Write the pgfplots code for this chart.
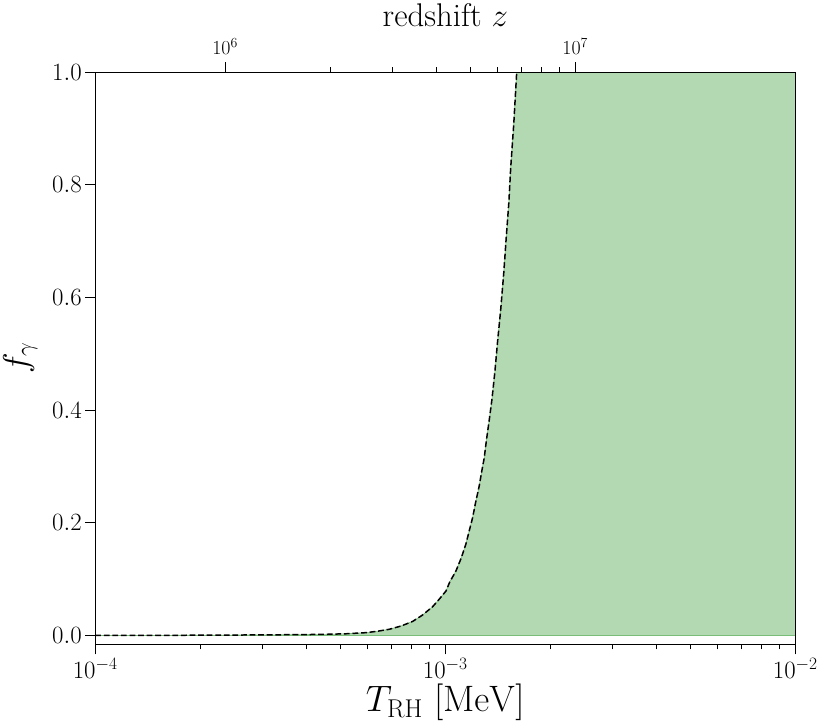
\RequirePackage{fix-cm}
\documentclass[border=0pt]{standalone}
\usepackage{pgfplots}
\pgfplotsset{compat=1.18}
\definecolor{fillgreen}{RGB}{179,217,179}
\definecolor{edgegreen}{RGB}{120,190,120}
\pgfplotstableread{
T f
1e-4 0
1.5e-4 0.0002
2e-4 0.0005
3e-4 0.001
3.84e-4 0.0015
4.5e-4 0.002
5.2e-4 0.003
5.94e-4 0.005
6.4e-4 0.0075
6.92e-4 0.011
7.5e-4 0.017
8.07e-4 0.025
8.6e-4 0.036
9.2e-4 0.051
9.6e-4 0.064
1.005e-3 0.079
1.03e-3 0.095
1.072e-3 0.114
1.11e-3 0.137
1.145e-3 0.162
1.17e-3 0.185
1.197e-3 0.209
1.22e-3 0.235
1.25e-3 0.265
1.27e-3 0.29
1.292e-3 0.315
1.31e-3 0.345
1.334e-3 0.38
1.36e-3 0.42
1.387e-3 0.47
1.41e-3 0.52
1.441e-3 0.58
1.47e-3 0.645
1.495e-3 0.71
1.52e-3 0.77
1.538e-3 0.83
1.57e-3 0.91
1.6e-3 1.0
}\curve
\begin{document}
\begin{tikzpicture}
\begin{axis}[
  scale only axis,
  width=702bp, height=574bp,
  xmode=log,
  xmin=1e-4, xmax=1e-2,
  ymin=-0.016, ymax=1.0,
  ytick={0,0.2,0.4,0.6,0.8,1.0},
  yticklabel style={/pgf/number format/fixed,/pgf/number format/fixed zerofill,/pgf/number format/precision=1},
  xtick={1e-4,1e-3,1e-2},
  xtick pos=left, ytick pos=left,
  tick align=outside,
  major tick length=10bp, minor tick length=5bp,
  every tick/.style={black, line width=0.6pt},
  axis line style={line width=0.8pt},
  tick label style={font=\fontsize{25}{30}\selectfont},
  xlabel={$T_{\mathrm{RH}}\ [\mathrm{MeV}]$},
  ylabel={$f_\gamma$},
  xlabel style={font=\fontsize{37}{44}\selectfont, yshift=1bp},
  ylabel style={font=\fontsize{35}{42}\selectfont, yshift=8bp},
  axis on top,
]
\addplot[fill=fillgreen, draw=edgegreen, line width=0.6pt] table[x=T,y=f] {\curve} -- (axis cs:1e-2,1.0) -- (axis cs:1e-2,0) -- cycle;
\addplot[black, line width=1.5bp, dash pattern=on 5.8bp off 2.8bp] table[x=T,y=f] {\curve};
\end{axis}
\begin{axis}[
  scale only axis,
  width=702bp, height=574bp,
  xmode=log,
  xmin=4.255e5, xmax=4.255e7,
  ymin=0, ymax=1,
  axis x line*=top,
  hide y axis,
  xtick={1e6,1e7},
  tick align=outside,
  major tick length=10bp, minor tick length=5bp,
  every tick/.style={black, line width=0.6pt},
  axis line style={line width=0.8pt},
  tick label style={font=\fontsize{20}{24}\selectfont},
  xticklabel style={yshift=4bp},
  xlabel={redshift $z$},
  xlabel style={font=\fontsize{33}{40}\selectfont, yshift=5bp},
]
\end{axis}
\path (current bounding box.north east) ++(9bp,0) coordinate (ex);
\path (ex);
\end{tikzpicture}
\end{document}
